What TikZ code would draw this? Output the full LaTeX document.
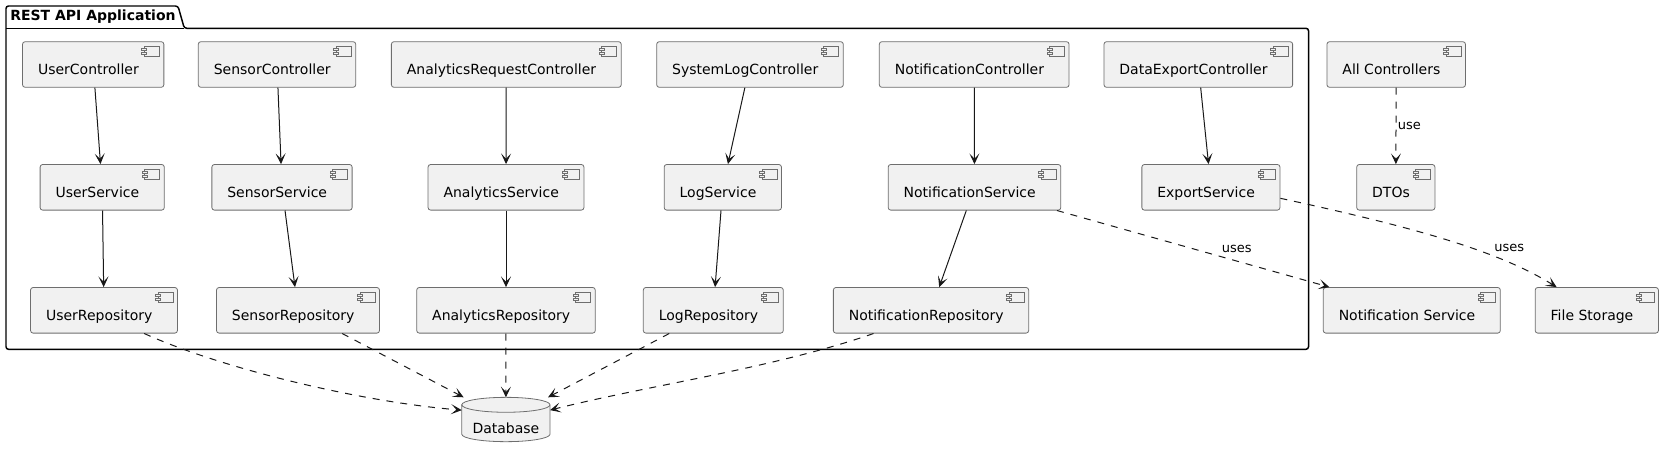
\documentclass[tikz,border=0pt]{standalone}
\usepackage{fontspec}
\setmainfont{DejaVu Sans}
\usetikzlibrary{arrows.meta,calc,positioning,backgrounds}
\definecolor{compfill}{HTML}{F1F1F1}
\definecolor{boxline}{HTML}{6E6E6E}
\definecolor{arrowline}{HTML}{181818}

\tikzset{
    comp/.style={draw=boxline, line width=0.6pt, fill=compfill, rounded corners=1.9pt,
        inner xsep=11.6pt, inner ysep=0pt, text height=24.5pt, text depth=9.7pt,
        font=\fontsize{10.5}{12}\selectfont, execute at end node={\hspace*{7.2pt}}},
    icon/.style={draw=boxline, line width=0.45pt, fill=compfill},
    dbnode/.style={inner sep=0pt, outer sep=0pt, minimum width=66.2pt,
        text height=27pt, text depth=6.3pt, font=\fontsize{10.5}{12}\selectfont},
    dbline/.style={draw=boxline, line width=0.6pt},
    dep/.style={draw=arrowline, line width=0.75pt,
        -{Stealth[length=8pt, width=7.5pt, inset=4pt]}},
    uses/.style={dep, dash pattern=on 5.25pt off 5.25pt},
    lbl/.style={font=\fontsize{9.75}{11}\selectfont, inner sep=1pt},
    pkgline/.style={draw=black, line width=1.1pt, rounded corners=1.9pt}
}

\begin{document}
\begin{tikzpicture}[x=0.75pt, y=-0.75pt]
    \useasboundingbox (0,0) rectangle (1663,457);

    % package
    \draw[pkgline] (6,349.3) -- (6,6) -- (178,6) -- (184.3,28.3) -- (1308.5,28.3)
        -- (1308.5,349.3) -- cycle;
    \draw[pkgline] (6,28.3) -- (184.3,28.3);
    \node[anchor=base west, inner sep=0pt, font=\bfseries\fontsize{10.5}{12}\selectfont]
        (pkgname) at (10,20.7) {REST API Application};

    % controllers
    \node[comp] (uc) at (93.2,64.5) {UserController};
    \node[comp] (sc) at (277,64.5) {SensorController};
    \node[comp] (arc) at (506.3,64.5) {AnalyticsRequestController};
    \node[comp] (slc) at (750,64.5) {SystemLogController};
    \node[comp] (nc) at (974.2,64.5) {NotificationController};
    \node[comp] (dec) at (1198.3,64.5) {DataExportController};
    \node[comp] (allc) at (1396.2,64.5) {All Controllers};

    % services
    \node[comp] (us) at (102.2,187.3) {UserService};
    \node[comp] (ss) at (282,187.3) {SensorService};
    \node[comp] (as) at (506,187.3) {AnalyticsService};
    \node[comp] (ls) at (722.8,187.3) {LogService};
    \node[comp] (ns) at (974.5,187.3) {NotificationService};
    \node[comp] (es) at (1210.9,187.3) {ExportService};
    \node[comp] (dtos) at (1395.8,187.3) {DTOs};

    % repositories
    \node[comp] (ur) at (104,310.3) {UserRepository};
    \node[comp] (sr) at (298,310.3) {SensorRepository};
    \node[comp] (ar) at (506,310.3) {AnalyticsRepository};
    \node[comp] (lr) at (713.3,310.3) {LogRepository};
    \node[comp] (nr) at (931,310.3) {NotificationRepository};
    \node[comp] (nse) at (1411.8,310.3) {Notification Service};
    \node[comp] (fs) at (1596.8,310.3) {File Storage};

    % component icons
    \foreach \n in {uc,sc,arc,slc,nc,dec,allc,us,ss,as,ls,ns,es,dtos,ur,sr,ar,lr,nr,nse,fs} {
        \draw[icon] ($(\n.north east)+(-20,5)$) rectangle ++(15,10);
        \draw[icon] ($(\n.north east)+(-22.5,7)$) rectangle ++(5,2);
        \draw[icon] ($(\n.north east)+(-22.5,11)$) rectangle ++(5,2);
    }

    % database
    \node[dbnode] (db) at (505.9,419.5) {Database};
    \begin{scope}[on background layer]
        \path[dbline, fill=compfill] ($(db.north west)+(0,7.5)$) -- ($(db.south west)+(0,-7.5)$)
            arc[start angle=180, end angle=360, x radius=33.1pt, y radius=5.6pt]
            -- ($(db.north east)+(0,7.5)$)
            arc[start angle=0, end angle=180, x radius=33.1pt, y radius=5.6pt] -- cycle;
        \draw[dbline] ($(db.north west)+(0,7.5)$)
            arc[start angle=180, end angle=360, x radius=33.1pt, y radius=5.6pt];
    \end{scope}

    % layers
    \draw[dep] (uc) -- (us);
    \draw[dep] (sc) -- (ss);
    \draw[dep] (arc) -- (as);
    \draw[dep] (slc) -- (ls);
    \draw[dep] (nc) -- (ns);
    \draw[dep] (dec) -- (es);
    \draw[dep] (us) -- (ur);
    \draw[dep] (ss) -- (sr);
    \draw[dep] (as) -- (ar);
    \draw[dep] (ls) -- (lr);
    \draw[dep] (ns) -- (nr);

    % dependencies
    \draw[uses] (allc) -- (dtos) node[lbl, midway, right] {use};
    \draw[uses] (ns) -- (nse) node[lbl, pos=0.66, above=5pt] {uses};
    \draw[uses] (es.-9) .. controls (1420,228.5) and (1500,252) .. (fs.150)
        node[lbl, pos=0.75, above=6.5pt] {uses};
    \draw[uses] (ur.-30) .. controls (223,369) and (362,402) .. (db.168);
    \draw[uses] (sr) -- (db);
    \draw[uses] (ar) -- (db);
    \draw[uses] (lr) -- (db);
    \draw[uses] (nr.-158) .. controls (773.3,368.3) and (650,385) .. (db.12);
\end{tikzpicture}
\end{document}
